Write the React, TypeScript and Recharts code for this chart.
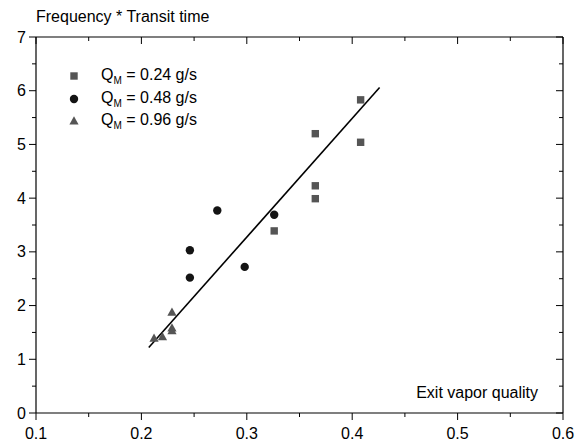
import { ScatterChart, Scatter, XAxis, YAxis } from 'recharts';

// QM = 0.24 g/s (squares)
const q024 = [
  { x: 0.326, y: 3.39 },
  { x: 0.365, y: 5.2 },
  { x: 0.365, y: 4.23 },
  { x: 0.365, y: 3.99 },
  { x: 0.408, y: 5.04 },
  { x: 0.408, y: 5.83 },
];

// QM = 0.48 g/s (circles)
const q048 = [
  { x: 0.246, y: 3.03 },
  { x: 0.246, y: 2.52 },
  { x: 0.272, y: 3.77 },
  { x: 0.298, y: 2.72 },
  { x: 0.326, y: 3.69 },
];

// QM = 0.96 g/s (triangles)
const q096 = [
  { x: 0.212, y: 1.39 },
  { x: 0.22, y: 1.42 },
  { x: 0.229, y: 1.875 },
  { x: 0.229, y: 1.58 },
  { x: 0.229, y: 1.53 },
];

// linear fit end points
const fitLine = [
  { x: 0.207, y: 1.22 },
  { x: 0.426, y: 6.06 },
];

const xMajor = [0.1, 0.2, 0.3, 0.4, 0.5, 0.6];
const xTicks = [0.1, 0.15, 0.2, 0.25, 0.3, 0.35, 0.4, 0.45, 0.5, 0.55, 0.6];
const yMajor = [0, 1, 2, 3, 4, 5, 6, 7];
const yTicks = [0, 0.5, 1, 1.5, 2, 2.5, 3, 3.5, 4, 4.5, 5, 5.5, 6, 6.5, 7];

const font = '"Liberation Sans", Arial, sans-serif';
const fs = 16;
const grey = '#555555';

const BottomTick = (props: any) => {
  const { x, y, payload } = props;
  const major = xMajor.includes(payload.value);
  const len = major ? 7 : 4;
  return (
    <g>
      <line x1={x} y1={y} x2={x} y2={y + len} stroke="#000" strokeWidth={1} />
      {major && (
        <text x={x} y={y + 20} textAnchor="middle" dominantBaseline="central" fontSize={fs} fontFamily={font} fill="#000">
          {payload.value}
        </text>
      )}
    </g>
  );
};

const TopTick = (props: any) => {
  const { x, y, payload } = props;
  const len = xMajor.includes(payload.value) ? 7 : 4;
  return <line x1={x} y1={y} x2={x} y2={y + len} stroke="#000" strokeWidth={1} />;
};

const LeftTick = (props: any) => {
  const { x, y, payload } = props;
  const major = yMajor.includes(payload.value);
  const len = major ? 7 : 4;
  return (
    <g>
      <line x1={x - len} y1={y} x2={x} y2={y} stroke="#000" strokeWidth={1} />
      {major && (
        <text x={x - 10} y={y} textAnchor="end" dominantBaseline="central" fontSize={fs} fontFamily={font} fill="#000">
          {payload.value}
        </text>
      )}
    </g>
  );
};

const RightTick = (props: any) => {
  const { x, y, payload } = props;
  const len = yMajor.includes(payload.value) ? 7 : 4;
  return <line x1={x - len} y1={y} x2={x} y2={y} stroke="#000" strokeWidth={1} />;
};

const Square = (p: any) => <rect x={p.cx - 3.7} y={p.cy - 3.7} width={7.4} height={7.4} fill={grey} />;
const Dot = (p: any) => <circle cx={p.cx} cy={p.cy} r={4.2} fill="#141414" />;
const Tri = (p: any) => (
  <polygon points={`${p.cx},${p.cy - 4.8} ${p.cx + 4.6},${p.cy + 3.4} ${p.cx - 4.6},${p.cy + 3.4}`} fill={grey} />
);
const NoShape = () => <g />;

const legendRows = [
  { label: '0.24 g/s', y: 76 },
  { label: '0.48 g/s', y: 99 },
  { label: '0.96 g/s', y: 121 },
];

export default function App() {
  const axisLine = { stroke: '#000', strokeWidth: 1.2 };
  return (
    <div style={{ position: 'absolute', left: 0, top: 0, width: 583, height: 442, background: '#fff', fontFamily: font, color: '#000' }}>
      <ScatterChart width={583} height={442} margin={{ top: 36, right: 19, bottom: 0, left: 0 }}>
        <XAxis
          type="number"
          dataKey="x"
          domain={[0.1, 0.6]}
          ticks={xTicks}
          interval={0}
          height={29}
          tickSize={0}
          tickMargin={0}
          tickLine={false}
          axisLine={axisLine}
          tick={<BottomTick />}
        />
        <XAxis
          xAxisId="top"
          orientation="top"
          type="number"
          dataKey="x"
          domain={[0.1, 0.6]}
          ticks={xTicks}
          interval={0}
          height={1}
          tickSize={0}
          tickMargin={0}
          tickLine={false}
          axisLine={axisLine}
          tick={<TopTick />}
        />
        <YAxis
          type="number"
          dataKey="y"
          domain={[0, 7]}
          ticks={yTicks}
          interval={0}
          width={36}
          tickSize={0}
          tickMargin={0}
          tickLine={false}
          axisLine={axisLine}
          tick={<LeftTick />}
        />
        <YAxis
          yAxisId="right"
          orientation="right"
          type="number"
          dataKey="y"
          domain={[0, 7]}
          ticks={yTicks}
          interval={0}
          width={1}
          tickSize={0}
          tickMargin={0}
          tickLine={false}
          axisLine={axisLine}
          tick={<RightTick />}
        />
        <Scatter
          data={fitLine}
          xAxisId="top"
          yAxisId="right"
          line={{ stroke: '#000', strokeWidth: 1.6 }}
          shape={<NoShape />}
          isAnimationActive={false}
        />
        <Scatter data={q024} shape={<Square />} isAnimationActive={false} />
        <Scatter data={q048} shape={<Dot />} isAnimationActive={false} />
        <Scatter data={q096} shape={<Tri />} isAnimationActive={false} />
      </ScatterChart>

      <div style={{ position: 'absolute', left: 36, top: 8, fontSize: fs, lineHeight: '18px', whiteSpace: 'nowrap' }}>
        Frequency * Transit time
      </div>
      <div style={{ position: 'absolute', right: 45, top: 384, fontSize: fs, lineHeight: '18px', whiteSpace: 'nowrap' }}>
        Exit vapor quality
      </div>

      <svg style={{ position: 'absolute', left: 0, top: 0 }} width={120} height={140}>
        <Square cx={74} cy={legendRows[0].y} />
        <Dot cx={74} cy={legendRows[1].y} />
        <Tri cx={74} cy={legendRows[2].y} />
      </svg>
      {legendRows.map((r) => (
        <div
          key={r.label}
          style={{ position: 'absolute', left: 101, top: r.y - 10, fontSize: fs, lineHeight: '18px', whiteSpace: 'nowrap' }}
        >
          Q<span style={{ fontSize: 10, position: 'relative', top: 4, color: '#000' }}>M</span> = {r.label}
        </div>
      ))}
    </div>
  );
}
